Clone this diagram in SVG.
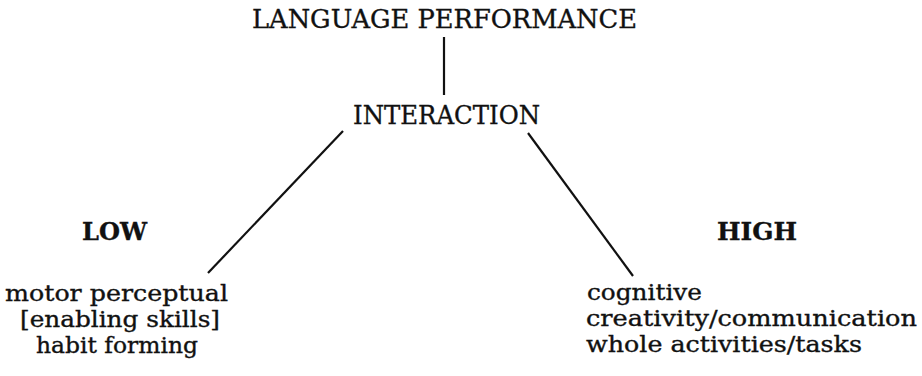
<svg xmlns="http://www.w3.org/2000/svg" width="922" height="376" viewBox="0 0 922 376">
<style>
text{font-family:"DejaVu Serif","Liberation Serif",serif;fill:#111;font-size:25.5px;stroke:#111;stroke-width:0.35}
.s{font-size:22px}
.b{font-weight:bold;font-size:25px}
.c{text-anchor:middle}
line{stroke:#111;stroke-width:2.2;stroke-linecap:butt}
</style>
<rect width="922" height="376" fill="#fff"/>
<g id="connectors">
<line x1="444" y1="37" x2="444" y2="95"/>
<line x1="343" y1="131" x2="208" y2="273"/>
<line x1="528" y1="133" x2="633" y2="276"/>
</g>
<g id="language-performance"><text class="c" x="444.5" y="28" textLength="385" lengthAdjust="spacingAndGlyphs">LANGUAGE PERFORMANCE</text></g>
<g id="interaction"><text class="c" x="446.5" y="124" textLength="187" lengthAdjust="spacingAndGlyphs">INTERACTION</text></g>
<g id="low"><text class="c b" x="114.5" y="240" textLength="65" lengthAdjust="spacingAndGlyphs">LOW</text></g>
<g id="high"><text class="c b" x="757" y="240" textLength="80" lengthAdjust="spacingAndGlyphs">HIGH</text></g>
<g id="low-skills">
<text class="c s" x="116.5" y="301" textLength="223" lengthAdjust="spacingAndGlyphs">motor perceptual</text>
<text class="c s" x="120" y="327" textLength="200" lengthAdjust="spacingAndGlyphs">[enabling skills]</text>
<text class="c s" x="117" y="353" textLength="162" lengthAdjust="spacingAndGlyphs">habit forming</text>
</g>
<g id="high-skills">
<text class="s" x="587" y="300" textLength="115" lengthAdjust="spacingAndGlyphs">cognitive</text>
<text class="s" x="586" y="326" textLength="331" lengthAdjust="spacingAndGlyphs">creativity/communication</text>
<text class="s" x="586" y="352" textLength="276" lengthAdjust="spacingAndGlyphs">whole activities/tasks</text>
</g>
</svg>
